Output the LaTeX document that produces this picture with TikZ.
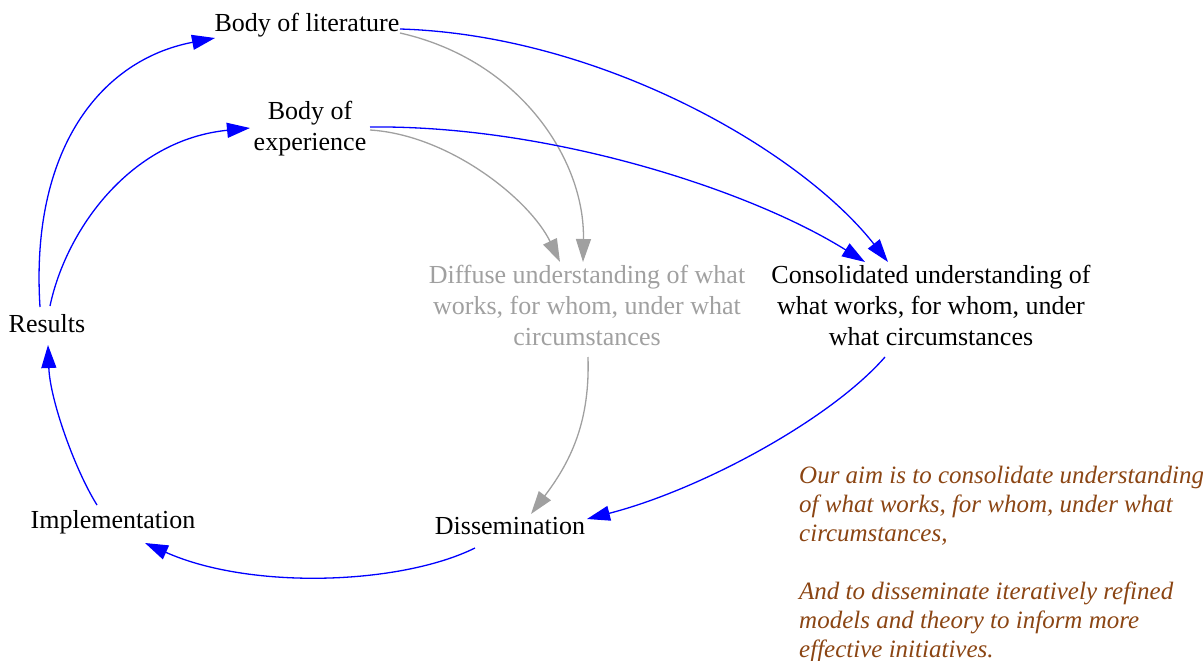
\documentclass[tikz,border=0pt]{standalone}
\usepackage{fontspec}
\usepackage{graphicx}
\newfontfamily\timesfont{Liberation Serif}
\newfontfamily\timesit{Liberation Serif Italic}
\usetikzlibrary{arrows.meta}
\definecolor{edgeblue}{HTML}{0000FF}
\definecolor{edgegray}{HTML}{A0A0A0}
\definecolor{notebrown}{HTML}{8B4513}
\newcommand{\ctext}[1]{\scalebox{0.65}{\timesfont\fontsize{40}{47.7}\selectfont\begin{tabular}{@{}c@{}}#1\end{tabular}}}
\newcommand{\ltext}[1]{\scalebox{0.625}{\timesit\fontsize{40}{46.4}\selectfont\begin{tabular}{@{}l@{}}#1\end{tabular}}}
\tikzset{
  lbl/.style={inner sep=0pt},
  dim/.style={lbl, text=edgegray},
  bluearrow/.style={draw=edgeblue, line width=1.3pt, -{Triangle[length=23pt,width=15pt,fill=edgeblue]}},
  grayarrow/.style={draw=edgegray, line width=1.3pt, -{Triangle[length=23pt,width=15pt,fill=edgegray]}},
  note/.style={inner sep=0pt, text=notebrown}
}
\begin{document}
\begin{tikzpicture}[x=1pt,y=-1pt]
\useasboundingbox (0,0) rectangle (1203,661);
\node[lbl] (lit) at (307,25) {\ctext{Body of literature}};
\node[lbl] (exp) at (310,129) {\ctext{Body of\\experience}};
\node[dim] (dif) at (587,308) {\ctext{Diffuse understanding of what\\works, for whom, under what\\circumstances}};
\node[lbl] (cons) at (931,308) {\ctext{Consolidated understanding of\\what works, for whom, under\\what circumstances}};
\node[lbl] (res) at (47,326) {\ctext{Results}};
\node[lbl] (impl) at (113,522) {\ctext{Implementation}};
\node[lbl] (dis) at (510,528) {\ctext{Dissemination}};
\node[note, anchor=north west] (aim) at (799,463) {\ltext{Our aim is to consolidate understanding\\of what works, for whom, under what\\circumstances,\\ \\And to disseminate iteratively refined\\models and theory to inform more\\effective initiatives.}};

% Results -> Body of literature
\draw[bluearrow] ([shift={(-7,-19)}]res.center) .. controls (30,150) and (100,60) .. ([shift={(-92,13)}]lit.center);
% Results -> Body of experience
\draw[bluearrow] ([shift={(3,-20)}]res.center) .. controls (66,230) and (130,140) .. ([shift={(-60,-1)}]exp.center);
% Implementation -> Results
\draw[bluearrow] ([shift={(-16,-17)}]impl.center) .. controls (75,470) and (50,400) .. ([shift={(1,19)}]res.center);
% Dissemination -> Implementation
\draw[bluearrow] ([shift={(-35,20)}]dis.center) .. controls (400,585) and (250,590) .. ([shift={(32,21)}]impl.center);
% Consolidated -> Dissemination
\draw[bluearrow] ([shift={(-46,49)}]cons.center) .. controls (830,420) and (700,490) .. ([shift={(77,-9)}]dis.center);
% Diffuse -> Dissemination
\draw[grayarrow] ([shift={(1,49)}]dif.center) .. controls (590,420) and (572,460) .. ([shift={(21,-14)}]dis.center);
% Body of literature -> Consolidated
\draw[bluearrow] ([shift={(93,4)}]lit.center) .. controls (600,35) and (800,150) .. ([shift={(-43,-46)}]cons.center);
% Body of literature -> Diffuse
\draw[grayarrow] ([shift={(93,8)}]lit.center) .. controls (520,60) and (585,160) .. ([shift={(-4,-46)}]dif.center);
% Body of experience -> Consolidated
\draw[bluearrow] ([shift={(60,-2)}]exp.center) .. controls (550,125) and (750,190) .. ([shift={(-66,-46)}]cons.center);
% Body of experience -> Diffuse
\draw[grayarrow] ([shift={(60,1)}]exp.center) .. controls (450,135) and (530,200) .. ([shift={(-27,-46)}]dif.center);
\end{tikzpicture}
\end{document}
